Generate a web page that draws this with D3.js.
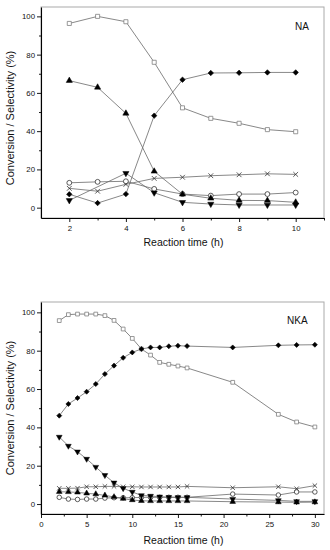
<!DOCTYPE html>
<html>
<head>
<meta charset="utf-8">
<script src="https://cdn.jsdelivr.net/npm/d3@7"></script>
<style>
  body { margin: 0; background: #fff; }
  text { font-family: Arial, "Liberation Sans", sans-serif; fill: #111; }
</style>
</head>
<body>
<svg id="chart" width="330" height="550"></svg>
<script>
// NA panel, reaction time 2..10 h
var naTime     = [2, 3, 4, 5, 6, 7, 8, 9, 10];
var naSquare   = [96.3, 100, 97.2, 76, 52.2, 46.7, 44.1, 40.8, 39.7];
var naTriUp    = [66.4, 62.9, 49.3, 19, 7, 4.9, 3.8, 3.7, 2.8];
var naDiamond  = [7, 2.4, 7.1, 48.1, 66.9, 70.4, 70.5, 70.7, 70.7];
var naTriDown  = [3.8, null, 18, 7.8, 2.8, 1.9, 1.4, 1.4, 1.4];
var naCross    = [10.1, 8.6, 12.2, 15.3, 15.9, 16.7, 17.2, 17.7, 17.4];
var naCircle   = [13, 13.5, 13.8, 9.8, 7.1, 6.3, 7.1, 7.1, 7.9];

// NKA panel, reaction time 2..30 h
var nkaTime    = [2, 3, 4, 5, 6, 7, 8, 9, 10, 11, 12, 13, 14, 15, 16, 21, 26, 28, 30];
var nkaSquare  = [95.7, 98.8, 99.1, 99.1, 99.1, 98.3, 95.8, 91.3, 86.4, 80.9, 77.7, 73.9, 72.9, 72, 71, 63.5, 46.8, 42.8, 40.2];
var nkaDiamond = [46.1, 52.2, 55.3, 58.6, 62.6, 67.8, 72.2, 76.3, 79.1, 80.9, 81.7, 81.7, 82.3, 82.6, 82.4, 81.7, 82.8, 83, 83.1];
var nkaTriDown = [35, 30.3, 27.3, 23.5, 19.3, 15, 11.1, 8.2, 6.3, 4.5, 4.2, 3.8, 3.6, 3.5, 3.5, 2.6, 1.9, 1.4, 1.4];
var nkaCross   = [8.2, 8.2, 8.3, 9, 9, 9.2, 9.2, 9, 9, 8.9, 8.9, 8.9, 8.9, 8.9, 9.2, 8.5, 9, 8, 9.6];
var nkaTriUp   = [6.4, 6.3, 6.1, 5.6, 5.2, 4.5, 3.7, 2.8, 2.1, 1.7, 1.6, 1.6, 1.6, 1.6, 1.6, 1.2, 1, 0.9, 1];
var nkaCircle  = [3.5, 2.6, 2.4, 2.6, 2.6, 3.1, 3.3, 3.3, 3.3, 3.5, 3.5, 3.5, 3.5, 3.5, 3.5, 5.2, 4.7, 6.3, 6.3];

var yMajor = [0, 20, 40, 60, 80, 100];
var yMinor = [10, 30, 50, 70, 90];

var svg = d3.select("#chart");
svg.append("rect").attr("width", 330).attr("height", 550).attr("fill", "#fff");

var styles = {
    square:  { type: d3.symbolSquare,   size: 15, fill: "#fff", stroke: "#808080", sw: 0.8 },
    triUp:   { type: d3.symbolTriangle, size: 15, fill: "#000", stroke: "#000", sw: 0.5 },
    triDown: { type: d3.symbolTriangle, size: 15, fill: "#000", stroke: "#000", sw: 0.5, flip: true },
    diamond: { type: d3.symbolDiamond2, size: 17, fill: "#000", stroke: "#000", sw: 0.6 },
    cross:   { type: d3.symbolX,        size: 15, fill: "none", stroke: "#333", sw: 0.8 },
    circle:  { type: d3.symbolCircle,   size: 17, fill: "#fff", stroke: "#333", sw: 0.8 }
};

function draw_panel(p) {
    var x = d3.scaleLinear().domain(p.xDomain).range([p.left, p.right]);
    var y = d3.scaleLinear().domain(p.yDomain).range([p.bottom, p.top]);
    var g = svg.append("g");

    // frame
    g.append("rect")
        .attr("x", p.left).attr("y", p.top)
        .attr("width", p.right - p.left).attr("height", p.bottom - p.top)
        .attr("fill", "none").attr("stroke", "#aaa").attr("stroke-width", 1);

    // series lines
    var line = d3.line().x(function(d) { return x(d[0]); }).y(function(d) { return y(d[1]); });
    p.series.forEach(function(s) {
        var pts = p.time.map(function(t, i) { return [t, s.values[i]]; })
            .filter(function(d) { return d[1] != null; });
        s.pts = pts;
        g.append("path")
            .attr("d", line(pts))
            .attr("fill", "none")
            .attr("stroke", "#6a6a6a")
            .attr("stroke-width", 0.8);
    });

    // markers
    p.series.forEach(function(s) {
        var st = styles[s.kind];
        var sym = d3.symbol().type(st.type).size(st.size * p.msize);
        g.selectAll(null).data(s.pts).enter().append("path")
            .attr("d", sym)
            .attr("transform", function(d) {
                return "translate(" + x(d[0]) + "," + y(d[1]) + ")" + (st.flip ? " rotate(180)" : "");
            })
            .attr("fill", st.fill)
            .attr("stroke", st.stroke)
            .attr("stroke-width", st.sw);
    });

    // y axis
    var ya = g.append("g").attr("transform", "translate(" + p.left + ",0)")
        .call(d3.axisLeft(y).tickValues(yMajor).tickSize(4).tickPadding(2).tickSizeOuter(0));
    g.append("g").attr("transform", "translate(" + p.left + ",0)")
        .call(d3.axisLeft(y).tickValues(yMinor).tickSize(2).tickFormat("").tickSizeOuter(0))
        .select(".domain").remove();

    // x axis
    var xa = g.append("g").attr("transform", "translate(0," + p.bottom + ")")
        .call(d3.axisBottom(x).tickValues(p.xMajor).tickSize(4).tickPadding(3).tickSizeOuter(0));
    g.append("g").attr("transform", "translate(0," + p.bottom + ")")
        .call(d3.axisBottom(x).tickValues(p.xMinor).tickSize(2.5).tickFormat("").tickSizeOuter(0))
        .select(".domain").remove();

    [ya, xa].forEach(function(a) {
        a.selectAll("text").style("font-size", "7.8px").attr("fill", "#111");
        a.select(".domain").attr("stroke", "#000").attr("stroke-width", 1.1);
    });
    g.selectAll(".tick line").attr("stroke", "#000").attr("stroke-width", 0.9);

    // titles
    g.append("text")
        .attr("transform", "translate(14," + p.yLabelY + ") rotate(-90)")
        .attr("text-anchor", "middle")
        .style("font-size", "11px")
        .text("Conversion / Selectivity (%)");
    g.append("text")
        .attr("x", (p.left + p.right) / 2 + 1)
        .attr("y", p.xLabelY)
        .attr("text-anchor", "middle")
        .style("font-size", "10.5px")
        .text("Reaction time (h)");
    g.append("text")
        .attr("x", p.tagX).attr("y", p.tagY)
        .style("font-size", "10px")
        .text(p.tag);
}

draw_panel({
    top: 7, bottom: 218, left: 41, right: 324,
    xDomain: [1, 11], yDomain: [-5.4, 104.9],
    xMajor: [2, 4, 6, 8, 10], xMinor: [3, 5, 7, 9, 11],
    time: naTime, msize: 1.1,
    series: [
        { kind: "square",  values: naSquare },
        { kind: "cross",   values: naCross },
        { kind: "circle",  values: naCircle },
        { kind: "triDown", values: naTriDown },
        { kind: "triUp",   values: naTriUp },
        { kind: "diamond", values: naDiamond }
    ],
    yLabelY: 118, xLabelY: 246,
    tag: "NA", tagX: 295, tagY: 29.5
});

draw_panel({
    top: 302, bottom: 514, left: 41, right: 324,
    xDomain: [0, 31], yDomain: [-5.2, 105.4],
    xMajor: [0, 5, 10, 15, 20, 25, 30], xMinor: [2.5, 7.5, 12.5, 17.5, 22.5, 27.5],
    time: nkaTime, msize: 0.95,
    series: [
        { kind: "square",  values: nkaSquare },
        { kind: "cross",   values: nkaCross },
        { kind: "circle",  values: nkaCircle },
        { kind: "triDown", values: nkaTriDown },
        { kind: "triUp",   values: nkaTriUp },
        { kind: "diamond", values: nkaDiamond }
    ],
    yLabelY: 408, xLabelY: 544,
    tag: "NKA", tagX: 287, tagY: 324
});
</script>
</body>
</html>
